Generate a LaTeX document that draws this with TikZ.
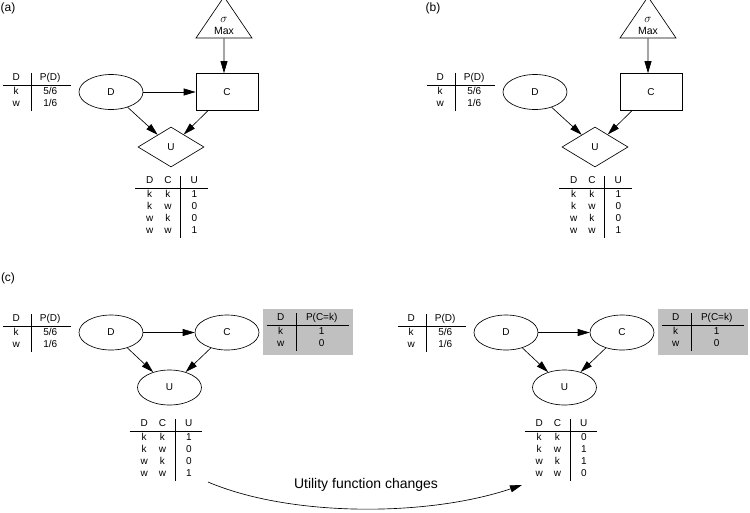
\documentclass[tikz,border=0pt]{standalone}
\usepackage{fontspec}
\setmainfont{Liberation Sans}
\usepackage{amsmath}
\usetikzlibrary{positioning,shapes.geometric,arrows.meta}

\begin{document}
\begin{tikzpicture}[x=1pt, y=-1pt, line width=0.65pt,
    every node/.style={font=\fontsize{10}{12}\selectfont},
    chance/.style={ellipse, draw, minimum width=64pt, minimum height=35pt, inner sep=0pt},
    decision/.style={rectangle, draw, minimum width=62pt, minimum height=37pt},
    utility/.style={diamond, draw, minimum width=66pt, minimum height=40pt, inner sep=0pt},
    maxer/.style={isosceles triangle, isosceles triangle stretches, shape border rotate=90,
        draw, minimum width=56pt, minimum height=36pt, inner sep=0pt, align=center,
        font=\fontsize{10.5}{12}\selectfont},
    cpt/.style={inner sep=0pt},
    shaded/.style={fill=cptgray, inner xsep=3.5pt, inner ysep=4pt},
    link/.style={-{Triangle[length=12pt,width=7pt]}},
    panel/.style={font=\fontsize{12}{14}\selectfont}]
            % grey for the tables of the chosen strategy
            \definecolor{cptgray}{HTML}{C0C0C0}
            \useasboundingbox (0,0) rectangle (750,512);

            % (a)
            \node[panel] (lblA) at (8,8) {(a)};
            \node[maxer] (Ma) at (224,26) {{\fontsize{12.5}{12}\selectfont$\sigma$}\\Max};
            \node[decision] (Ca) at (227,92) {C};
            \node[chance] (Da) at (111,92) {D};
            \node[utility] (Ua) at (171,147) {U};
            \node[cpt] (pDa) at (37,91.5) {\begin{tabular}{@{\hspace{10pt}}c@{\hspace{11pt}}|@{\hspace{9pt}}c@{\hspace{11pt}}}
                D & P(D)\\ \hline \rule{0pt}{10pt}k & 5/6\\ w & 1/6 \end{tabular}};
            \node[cpt] (uTa) at (171.5,206.5) {\begin{tabular}{@{\hspace{11pt}}c@{\hspace{11pt}}c@{\hspace{9pt}}|@{\hspace{10pt}}c@{\hspace{10pt}}}
                D & C & U\\ \hline \rule{0pt}{10pt}k & k & 1\\ k & w & 0\\ w & k & 0\\ w & w & 1 \end{tabular}};
            \draw[link] (Ma) -- (Ma |- Ca.north);
            \draw[link] (Da) -- (Ca);
            \draw[link] (Da) -- (Ua);
            \draw[link] (Ca) -- (Ua);

            % (b)
            \node[panel] (lblB) at (433,8) {(b)};
            \node[maxer] (Mb) at (648,26) {{\fontsize{12.5}{12}\selectfont$\sigma$}\\Max};
            \node[decision] (Cb) at (651,92) {C};
            \node[chance] (Db) at (535,92) {D};
            \node[utility] (Ub) at (595,147) {U};
            \node[cpt] (pDb) at (461,91.5) {\begin{tabular}{@{\hspace{10pt}}c@{\hspace{11pt}}|@{\hspace{9pt}}c@{\hspace{11pt}}}
                D & P(D)\\ \hline \rule{0pt}{10pt}k & 5/6\\ w & 1/6 \end{tabular}};
            \node[cpt] (uTb) at (595.5,206.5) {\begin{tabular}{@{\hspace{11pt}}c@{\hspace{11pt}}c@{\hspace{9pt}}|@{\hspace{10pt}}c@{\hspace{10pt}}}
                D & C & U\\ \hline \rule{0pt}{10pt}k & k & 1\\ k & w & 0\\ w & k & 0\\ w & w & 1 \end{tabular}};
            \draw[link] (Mb) -- (Mb |- Cb.north);
            \draw[link] (Db) -- (Ub);
            \draw[link] (Cb) -- (Ub);

            % (c), before
            \node[panel] (lblC) at (8,278) {(c)};
            \node[chance] (Dc) at (111,332.5) {D};
            \node[chance] (Cc) at (227,332.5) {C};
            \node[chance] (Uc) at (169.5,387.5) {U};
            \node[cpt] (pDc) at (37,332.5) {\begin{tabular}{@{\hspace{10pt}}c@{\hspace{11pt}}|@{\hspace{9pt}}c@{\hspace{11pt}}}
                D & P(D)\\ \hline \rule{0pt}{10pt}k & 5/6\\ w & 1/6 \end{tabular}};
            \node[cpt, shaded] (pCc) at (308,331.5) {\begin{tabular}{@{\hspace{10.5pt}}c@{\hspace{11.5pt}}|@{\hspace{10pt}}c@{\hspace{12pt}}}
                D & P(C=k)\\ \hline \rule{0pt}{10pt}k & 1\\ w & 0 \end{tabular}};
            \node[cpt] (uTc) at (166,449.5) {\begin{tabular}{@{\hspace{11pt}}c@{\hspace{11pt}}c@{\hspace{9pt}}|@{\hspace{10pt}}c@{\hspace{10pt}}}
                D & C & U\\ \hline \rule{0pt}{10pt}k & k & 1\\ k & w & 0\\ w & k & 0\\ w & w & 1 \end{tabular}};
            \draw[link] (Dc) -- (Cc);
            \draw[link] (Dc) -- (Uc);
            \draw[link] (Cc) -- (Uc);

            % (c), after
            \node[chance] (Dd) at (506,332.5) {D};
            \node[chance] (Cd) at (622,332.5) {C};
            \node[chance] (Ud) at (564.5,387.5) {U};
            \node[cpt] (pDd) at (432,332.5) {\begin{tabular}{@{\hspace{10pt}}c@{\hspace{11pt}}|@{\hspace{9pt}}c@{\hspace{11pt}}}
                D & P(D)\\ \hline \rule{0pt}{10pt}k & 5/6\\ w & 1/6 \end{tabular}};
            \node[cpt, shaded] (pCd) at (703,331.5) {\begin{tabular}{@{\hspace{10.5pt}}c@{\hspace{11.5pt}}|@{\hspace{10pt}}c@{\hspace{12pt}}}
                D & P(C=k)\\ \hline \rule{0pt}{10pt}k & 1\\ w & 0 \end{tabular}};
            \node[cpt] (uTd) at (561,449.5) {\begin{tabular}{@{\hspace{11pt}}c@{\hspace{11pt}}c@{\hspace{9pt}}|@{\hspace{10pt}}c@{\hspace{10pt}}}
                D & C & U\\ \hline \rule{0pt}{10pt}k & k & 0\\ k & w & 1\\ w & k & 1\\ w & w & 0 \end{tabular}};
            \draw[link] (Dd) -- (Cd);
            \draw[link] (Dd) -- (Ud);
            \draw[link] (Cd) -- (Ud);

            \coordinate (chgFrom) at (208,482);
            \coordinate (chgTo) at (522,485);
            \node[font=\fontsize{14}{16}\selectfont] (chgLbl) at (366,485) {Utility function changes};
            \draw[link] (chgFrom) .. controls (290,517) and (427,517) .. (chgTo);
        \end{tikzpicture}
\end{document}
